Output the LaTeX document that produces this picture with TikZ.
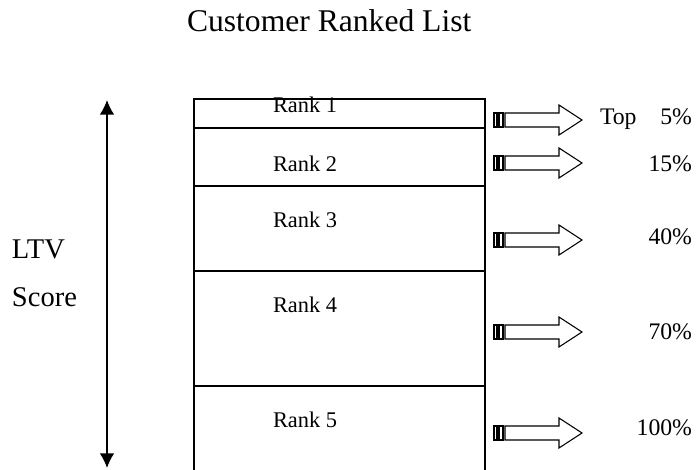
\documentclass[tikz,border=0pt]{standalone}
\usepackage{fontspec}
\setmainfont{Liberation Serif}
\usetikzlibrary{arrows.meta}

\tikzset{
  lbl/.style={inner sep=0pt, outer sep=0pt},
  ranktext/.style={lbl, anchor=base west, font=\fontsize{16.8pt}{19pt}\selectfont},
  pcttext/.style={lbl, anchor=base east, font=\fontsize{17.8pt}{21pt}\selectfont},
  sidetext/.style={lbl, anchor=base west, font=\fontsize{21.4pt}{25pt}\selectfont},
  titletext/.style={lbl, anchor=base west, font=\fontsize{23.7pt}{28pt}\selectfont},
  listline/.style={line width=1pt},
  scaleaxis/.style={line width=1.1pt, {Latex[length=11pt,width=11pt]}-{Latex[length=11pt,width=11pt]}},
  % striped block arrow, origin at the left edge of the first stripe
  blockarrow/.pic={
    \draw[line width=0.8pt] (0,-7) rectangle (3,7);
    \draw[line width=0.8pt] (5,-7) rectangle (9,7);
    \draw[line width=0.8pt, line join=miter]
      (11,-7) -- (65,-7) -- (65,-15) -- (88,0) -- (65,15) -- (65,7) -- (11,7) -- cycle;
  }
}

\begin{document}
\begin{tikzpicture}[x=0.75pt, y=-0.75pt]
  \useasboundingbox (0,0) rectangle (697,470);

  % title
  \node[titletext] (title) at (187,32) {Customer Ranked List};

  % ranked list frame and row dividers
  \coordinate (tl) at (194,99);
  \coordinate (tr) at (485,99);
  \coordinate (bl) at (194,470);
  \coordinate (br) at (485,470);
  \draw[listline] (bl) -- (tl) -- (tr) -- (br);
  \coordinate (d1l) at (194,128); \coordinate (d1r) at (485,128);
  \coordinate (d2l) at (194,186); \coordinate (d2r) at (485,186);
  \coordinate (d3l) at (194,271); \coordinate (d3r) at (485,271);
  \coordinate (d4l) at (194,386); \coordinate (d4r) at (485,386);
  \draw[listline] (d1l) -- (d1r);
  \draw[listline] (d2l) -- (d2r);
  \draw[listline] (d3l) -- (d3r);
  \draw[listline] (d4l) -- (d4r);

  % row labels
  \node[ranktext] (rank1) at (273,113) {Rank 1};
  \node[ranktext] (rank2) at (273,172) {Rank 2};
  \node[ranktext] (rank3) at (273,228) {Rank 3};
  \node[ranktext] (rank4) at (273,313) {Rank 4};
  \node[ranktext] (rank5) at (273,428) {Rank 5};

  % score axis
  \coordinate (axtop) at (107,100);
  \coordinate (axbot) at (107,468);
  \draw[scaleaxis] (axtop) -- (axbot);
  \node[sidetext] (ltv) at (12,259) {LTV};
  \node[sidetext] (score) at (12,307) {Score};

  % block arrows
  \pic at (494,120) {blockarrow};
  \pic at (494,163) {blockarrow};
  \pic at (494,240) {blockarrow};
  \pic at (494,332) {blockarrow};
  \pic at (494,433) {blockarrow};

  % cumulative percentages
  \node[lbl, anchor=base west, font=\fontsize{17.8pt}{21pt}\selectfont] (top) at (600,125) {Top};
  \node[pcttext] (p1) at (692,125) {5\%};
  \node[pcttext] (p2) at (692,172) {15\%};
  \node[pcttext] (p3) at (692,245) {40\%};
  \node[pcttext] (p4) at (692,340) {70\%};
  \node[pcttext] (p5) at (692,436) {100\%};
\end{tikzpicture}
\end{document}
